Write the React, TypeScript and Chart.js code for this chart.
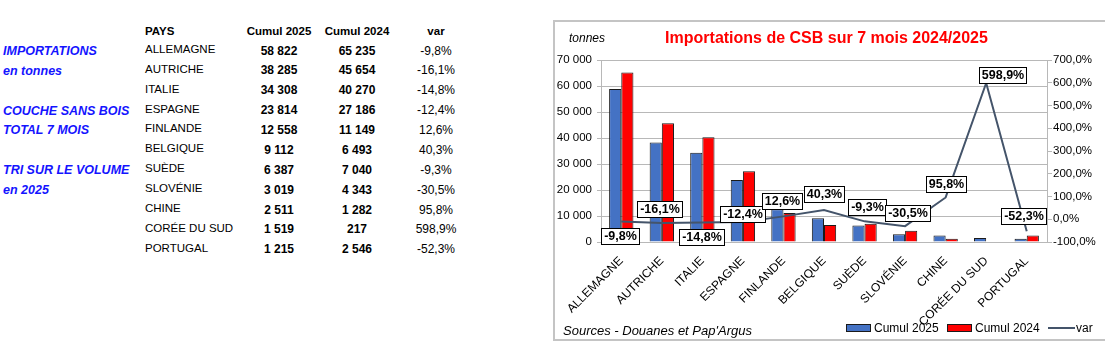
import React, { useEffect, useRef } from "react";
import { Chart, registerables } from "chart.js";

Chart.register(...registerables);

// ---------- data ----------
const countries = [
  "ALLEMAGNE",
  "AUTRICHE",
  "ITALIE",
  "ESPAGNE",
  "FINLANDE",
  "BELGIQUE",
  "SUÈDE",
  "SLOVÉNIE",
  "CHINE",
  "CORÉE DU SUD",
  "PORTUGAL",
];
const cumul2025 = [58822, 38285, 34308, 23814, 12558, 9112, 6387, 3019, 2511, 1519, 1215];
const cumul2024 = [65235, 45654, 40270, 27186, 11149, 6493, 7040, 4343, 1282, 217, 2546];
const variation = [-9.8, -16.1, -14.8, -12.4, 12.6, 40.3, -9.3, -30.5, 95.8, 598.9, -52.3];
const tonnesTicks = [0, 10000, 20000, 30000, 40000, 50000, 60000, 70000];
const pctTicks = [-100, 0, 100, 200, 300, 400, 500, 600, 700];
const sideNotes = ["IMPORTATIONS", "en tonnes", "", "COUCHE SANS BOIS", "TOTAL 7 MOIS", "", "TRI SUR LE VOLUME", "en 2025"];
const tableHeaders = ["PAYS", "Cumul 2025", "Cumul 2024", "var"];
const chartTitle = "Importations de CSB sur 7 mois 2024/2025";
const unitLabel = "tonnes";
const sourceLabel = "Sources - Douanes et Pap'Argus";

// ---------- label placement (style, not data) ----------
const labelDx = [-1, -2, 0, 0, -1, 0, 3, 3, 1, 17, -3];
const labelDy = [15.5, -13, 15, -8, -15, -16, -14, -13, -13, -8, -15];

// ---------- styles ----------
const FONT = "'Liberation Sans', Arial, sans-serif";
const BLUE = "#4472C4";
const RED = "#FF0000";
const LINE = "#44546A";
const GRID = "#b8b8b8";
const OX = 555; // canvas origin in page coords
const OY = 22;
const CW = 549;
const CH = 317;

const fmtThousands = (n: number) => String(n).replace(/\B(?=(\d{3})+(?!\d))/g, " ");
const fmtPct = (v: number) => v.toFixed(1).replace(".", ",") + "%";

const decorPlugin = {
  id: "decor",
  afterDraw(chart: any) {
    const ctx: CanvasRenderingContext2D = chart.ctx;
    const xs = chart.scales.x;
    const ys = chart.scales.y1;
    ctx.save();
    // data label boxes
    ctx.font = `bold 12.5px ${FONT}`;
    variation.forEach((v, i) => {
      const text = fmtPct(v);
      const cx = xs.getPixelForValue(i) + labelDx[i];
      const cy = ys.getPixelForValue(v) + labelDy[i];
      const w = Math.round(ctx.measureText(text).width + 6);
      const h = 17;
      const l = Math.round(cx - w / 2);
      const t = Math.round(cy - h / 2);
      ctx.fillStyle = "#fff";
      ctx.fillRect(l, t, w, h);
      ctx.strokeStyle = "#000";
      ctx.lineWidth = 1;
      ctx.strokeRect(l + 0.5, t + 0.5, w - 1, h - 1);
      ctx.fillStyle = "#000";
      ctx.textAlign = "center";
      ctx.textBaseline = "middle";
      ctx.fillText(text, l + w / 2, t + h / 2 + 0.5);
    });

    // title
    ctx.fillStyle = RED;
    ctx.font = `bold 16px ${FONT}`;
    ctx.textAlign = "center";
    ctx.textBaseline = "middle";
    ctx.fillText(chartTitle, 826.5 - OX, 39 - OY);

    // unit
    ctx.fillStyle = "#000";
    ctx.font = `italic 12px ${FONT}`;
    ctx.textAlign = "left";
    ctx.fillText(unitLabel, 569 - OX, 39 - OY);

    // sources
    ctx.font = `italic 13px ${FONT}`;
    ctx.fillText(sourceLabel, 563 - OX, 331.5 - OY);

    // legend
    const ly = 328 - OY;
    ctx.font = `12px ${FONT}`;
    const items = [
      { x: 846, color: BLUE, label: chart.data.datasets[1].label },
      { x: 947, color: RED, label: chart.data.datasets[2].label },
    ];
    items.forEach((it) => {
      const bx = it.x - OX;
      ctx.fillStyle = it.color;
      ctx.fillRect(bx, ly - 4, 25, 8);
      ctx.strokeStyle = "#1a1a1a";
      ctx.lineWidth = 1;
      ctx.strokeRect(bx + 0.5, ly - 4 + 0.5, 24, 7);
      ctx.fillStyle = "#000";
      ctx.fillText(it.label, bx + 28, ly + 0.5);
    });
    ctx.strokeStyle = LINE;
    ctx.lineWidth = 2;
    ctx.beginPath();
    ctx.moveTo(1048 - OX, ly);
    ctx.lineTo(1075 - OX, ly);
    ctx.stroke();
    ctx.fillStyle = "#000";
    ctx.fillText(chart.data.datasets[0].label, 1076 - OX, ly + 0.5);
    ctx.restore();
  },
};

function Txt(props: {
  x: number;
  y: number;
  align?: "left" | "center" | "right";
  w?: number;
  style?: React.CSSProperties;
  children: React.ReactNode;
}) {
  const { x, y, align = "left", w = 200, style, children } = props;
  const h = 18;
  const left = align === "left" ? x : align === "center" ? x - w / 2 : x - w;
  return (
    <div
      style={{
        position: "absolute",
        left,
        top: y - h / 2,
        width: w,
        height: h,
        lineHeight: h + "px",
        textAlign: align,
        whiteSpace: "nowrap",
        ...style,
      }}
    >
      {children}
    </div>
  );
}

export default function App() {
  const ref = useRef<HTMLCanvasElement | null>(null);

  useEffect(() => {
    if (!ref.current) return;
    const tickFont = { family: FONT, size: 11.5 };
    const chart = new Chart(ref.current, {
      data: {
        labels: countries,
        datasets: [
          {
            type: "line",
            label: "var",
            data: variation,
            yAxisID: "y1",
            borderColor: LINE,
            borderWidth: 2,
            pointRadius: 0,
            tension: 0,
            order: 0,
          },
          {
            type: "bar",
            label: "Cumul 2025",
            data: cumul2025,
            yAxisID: "y",
            backgroundColor: BLUE,
            borderColor: "#1a1a1a",
            borderWidth: 1,
            categoryPercentage: 0.6,
            barPercentage: 1,
            order: 1,
          },
          {
            type: "bar",
            label: "Cumul 2024",
            data: cumul2024,
            yAxisID: "y",
            backgroundColor: RED,
            borderColor: "#1a1a1a",
            borderWidth: 1,
            categoryPercentage: 0.6,
            barPercentage: 1,
            order: 1,
          },
        ],
      } as any,
      options: {
        responsive: false,
        animation: false,
        layout: { padding: { top: 38, left: 0, right: 0, bottom: 0 } },
        plugins: {
          legend: { display: false },
          title: { display: false },
          tooltip: { enabled: false },
        },
        scales: {
          x: {
            type: "category",
            offset: true,
            grid: { display: false },
            border: { display: true, color: GRID },
            ticks: {
              color: "#000",
              font: { family: FONT, size: 12 },
              maxRotation: 45,
              minRotation: 45,
              autoSkip: false,
              padding: 4,
            },
            afterFit: (s: any) => {
              s.height = CH - (242 - OY);
            },
          },
          y: {
            type: "linear",
            position: "left",
            min: 0,
            max: 70000,
            afterBuildTicks: (s: any) => {
              s.ticks = tonnesTicks.map((v) => ({ value: v }));
            },
            grid: { color: GRID, tickLength: 4 },
            border: { color: GRID },
            ticks: {
              color: "#000",
              font: tickFont,
              padding: 5,
              callback: (v: any) => fmtThousands(Number(v)),
            },
            afterFit: (s: any) => {
              s.width = 601 - OX;
            },
          },
          y1: {
            type: "linear",
            position: "right",
            min: -100,
            max: 700,
            afterBuildTicks: (s: any) => {
              s.ticks = pctTicks.map((v) => ({ value: v }));
            },
            grid: { drawOnChartArea: false, color: GRID, tickLength: 5 },
            border: { color: GRID },
            ticks: {
              color: "#000",
              font: tickFont,
              padding: 1,
              callback: (v: any) => fmtPct(Number(v)),
            },
            afterFit: (s: any) => {
              s.width = CW - (1047 - OX);
            },
          },
        },
      } as any,
      plugins: [decorPlugin],
    });
    return () => chart.destroy();
  }, []);

  const rowY = (i: number) => 49 + 19.87 * i;
  const nameStyle: React.CSSProperties = { fontSize: 11.5 };
  const numStyle: React.CSSProperties = { fontSize: 12, fontWeight: "bold" };
  const noteStyle: React.CSSProperties = {
    fontSize: 12.5,
    fontWeight: "bold",
    fontStyle: "italic",
    color: "#1414FF",
  };
  const headStyle: React.CSSProperties = { fontSize: 11.5, fontWeight: "bold" };

  return (
    <div
      style={{
        position: "absolute",
        left: 0,
        top: 0,
        width: 1105,
        height: 360,
        background: "#fff",
        fontFamily: FONT,
        color: "#000",
        overflow: "hidden",
      }}
    >
      {sideNotes.map((t, i) =>
        t ? (
          <Txt key={"n" + i} x={3} y={rowY(i) + 2} style={noteStyle}>
            {t}
          </Txt>
        ) : null
      )}
      <Txt x={145} y={31} style={headStyle}>
        {tableHeaders[0]}
      </Txt>
      <Txt x={279} y={31} align="center" w={100} style={headStyle}>
        {tableHeaders[1]}
      </Txt>
      <Txt x={357} y={31} align="center" w={100} style={headStyle}>
        {tableHeaders[2]}
      </Txt>
      <Txt x={436} y={31} align="center" w={100} style={headStyle}>
        {tableHeaders[3]}
      </Txt>
      {countries.map((c, i) => (
        <React.Fragment key={c}>
          <Txt x={145} y={rowY(i)} style={nameStyle}>
            {c}
          </Txt>
          <Txt x={279} y={rowY(i) + 1.6} align="center" w={100} style={numStyle}>
            {fmtThousands(cumul2025[i])}
          </Txt>
          <Txt x={357} y={rowY(i) + 1.6} align="center" w={100} style={numStyle}>
            {fmtThousands(cumul2024[i])}
          </Txt>
          <Txt x={436} y={rowY(i) + 1.6} align="center" w={100} style={{ fontSize: 12 }}>
            {fmtPct(variation[i])}
          </Txt>
        </React.Fragment>
      ))}
      <div
        style={{
          position: "absolute",
          left: 553,
          top: 20,
          width: 560,
          height: 321,
          border: "2px solid #c4c4c4",
          boxSizing: "border-box",
        }}
      >
        <canvas
          ref={ref}
          width={CW}
          height={CH}
          style={{ position: "absolute", left: 0, top: 0, width: CW, height: CH }}
        />
      </div>
    </div>
  );
}
